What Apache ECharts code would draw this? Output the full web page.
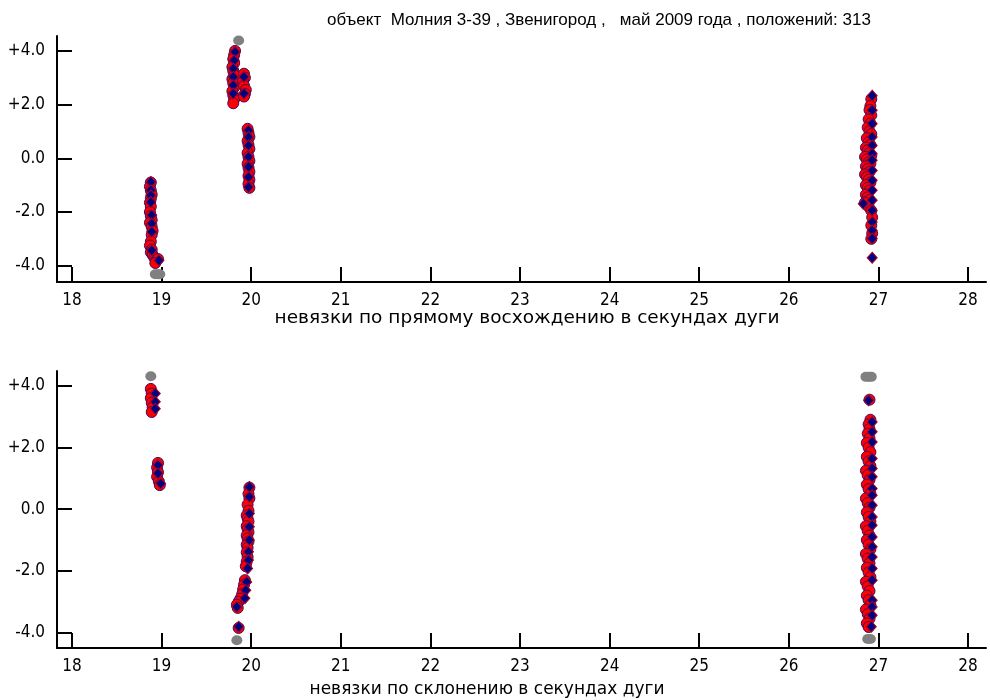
<!DOCTYPE html>
<html>
<head>
<meta charset="utf-8">
<script src="https://cdn.jsdelivr.net/npm/echarts@6/dist/echarts.min.js"></script>
<style>
html,body{margin:0;padding:0;background:#fff;}
#chart{width:990px;height:700px;}
</style>
</head>
<body>
<div id="chart"></div>
<script>
// ---- data ----
var titleText = 'объект  Молния 3-39 , Звенигород ,   май 2009 года , положений: 313';
var raAxisName = 'невязки по прямому восхождению в секундах дуги';
var decAxisName = 'невязки по склонению в секундах дуги';

var xTickValues = [18, 19, 20, 21, 22, 23, 24, 25, 26, 27, 28];
var yTickValues = [-4, -2, 0, 2, 4];
var yTickLabels = ['-4.0', '-2.0', '0.0', '+2.0', '+4.0'];

// right ascension residuals: red points
var raRed = [
  [18.88,-0.90],[18.87,-1.05],[18.88,-1.20],[18.89,-1.35],[18.88,-1.50],[18.87,-1.65],[18.88,-1.80],[18.87,-2.00],
  [18.88,-2.15],[18.89,-2.30],[18.87,-2.40],[18.89,-2.55],[18.90,-2.70],[18.89,-2.85],[18.88,-3.10],[18.87,-3.25],
  [18.89,-3.40],[18.88,-3.50],[18.90,-3.60],[18.92,-3.70],[18.94,-3.80],[18.96,-3.75],[18.93,-3.90],
  [19.82,4.00],[19.81,3.85],[19.80,3.70],[19.81,3.55],[19.79,3.40],[19.80,3.25],[19.81,3.10],[19.79,2.95],
  [19.80,2.80],[19.81,2.65],[19.79,2.50],[19.80,2.35],[19.81,2.20],[19.80,2.05],
  [19.92,3.15],[19.93,3.00],[19.91,2.85],[19.92,2.70],[19.94,2.55],[19.93,2.40],[19.92,2.30],
  [19.96,1.10],[19.97,0.95],[19.98,0.80],[19.96,0.65],[19.97,0.50],[19.98,0.35],[19.96,0.20],[19.97,0.05],
  [19.98,-0.10],[19.96,-0.20],[19.97,-0.35],[19.98,-0.50],[19.97,-0.65],[19.98,-0.80],[19.97,-0.95],[19.98,-1.10],
  [26.92,2.20],[26.91,1.95],[26.90,1.80],[26.92,1.60],[26.89,1.45],[26.91,1.30],[26.88,1.15],[26.90,1.00],
  [26.92,0.90],[26.87,0.75],[26.89,0.60],[26.91,0.50],[26.86,0.40],[26.88,0.30],[26.90,0.20],[26.92,0.10],
  [26.85,0.05],[26.87,-0.05],[26.89,-0.15],[26.91,-0.20],[26.86,-0.30],[26.88,-0.40],[26.90,-0.50],[26.85,-0.60],
  [26.87,-0.70],[26.89,-0.80],[26.91,-0.90],[26.86,-1.00],[26.88,-1.10],[26.90,-1.20],[26.86,-1.35],[26.88,-1.45],
  [26.90,-1.55],[26.85,-1.65],[26.89,-1.80],[26.92,-1.95],[26.93,-2.20],[26.92,-2.50],[26.93,-2.80],[26.92,-3.00]
];
// right ascension residuals: blue diamond points
var raBlue = [
  [18.88,-0.88],[18.88,-1.19],[18.88,-1.38],[18.88,-1.63],[18.89,-2.12],[18.89,-2.43],[18.89,-2.74],[18.89,-3.43],[18.97,-3.80],
  [19.82,3.96],[19.81,3.65],[19.80,3.34],[19.80,3.03],[19.80,2.72],[19.80,2.41],[19.92,3.03],[19.92,2.41],
  [19.97,1.04],[19.97,0.79],[19.97,0.48],[19.97,0.05],[19.97,-0.32],[19.97,-0.70],[19.97,-1.07],
  [26.93,2.33],[26.93,1.79],[26.93,1.29],[26.93,0.79],[26.93,0.48],[26.93,0.17],[26.93,-0.07],[26.93,-0.45],
  [26.93,-0.82],[26.93,-1.19],[26.93,-1.56],[26.93,-1.94],[26.93,-2.37],[26.93,-2.68],[26.93,-2.99],[26.93,-3.70],
  [26.83,-1.69]
];
// right ascension residuals: out-of-range points (grey)
var raGray = [
  [19.86,4.39],[18.93,-4.32],[18.96,-4.32],[18.98,-4.32]
];

// declination residuals: red points
var decRed = [
  [18.88,3.90],[18.89,3.75],[18.88,3.60],[18.89,3.45],[18.90,3.30],[18.89,3.15],
  [18.96,1.50],[18.95,1.35],[18.96,1.20],[18.95,1.05],[18.97,0.90],[18.98,0.78],
  [19.98,0.70],[19.97,0.50],[19.98,0.35],[19.96,0.15],[19.97,-0.05],[19.95,-0.20],[19.96,-0.30],[19.97,-0.40],
  [19.95,-0.55],[19.96,-0.65],[19.97,-0.75],[19.95,-0.85],[19.96,-0.95],[19.97,-1.05],[19.95,-1.15],[19.96,-1.25],
  [19.95,-1.40],[19.96,-1.55],[19.95,-1.70],[19.94,-1.85],[19.93,-2.30],[19.92,-2.45],[19.91,-2.60],[19.90,-2.75],
  [19.88,-2.90],[19.86,-3.00],[19.84,-3.10],[19.85,-3.20],[19.86,-3.85],
  [26.90,3.55],[26.91,2.90],[26.89,2.75],[26.90,2.60],[26.88,2.45],[26.90,2.30],[26.87,2.15],[26.89,2.00],
  [26.91,1.85],[26.87,1.70],[26.89,1.55],[26.91,1.40],[26.86,1.25],[26.88,1.10],[26.90,0.95],[26.87,0.80],
  [26.89,0.65],[26.91,0.50],[26.86,0.35],[26.88,0.20],[26.90,0.05],[26.87,-0.10],[26.89,-0.25],[26.91,-0.40],
  [26.86,-0.55],[26.88,-0.70],[26.90,-0.85],[26.87,-1.00],[26.89,-1.15],[26.91,-1.30],[26.86,-1.45],[26.88,-1.60],
  [26.90,-1.75],[26.87,-1.90],[26.89,-2.05],[26.91,-2.20],[26.86,-2.35],[26.88,-2.50],[26.90,-2.65],[26.87,-2.80],
  [26.89,-2.95],[26.91,-3.10],[26.86,-3.25],[26.88,-3.40],[26.90,-3.55],[26.87,-3.70],[26.89,-3.82]
];
// declination residuals: blue diamond points
var decBlue = [
  [18.93,3.75],[18.93,3.48],[18.93,3.26],[18.96,1.43],[18.96,1.16],[18.99,0.83],
  [19.98,0.72],[19.98,0.40],[19.98,-0.14],[19.98,-0.57],[19.98,-1.00],[19.97,-1.38],[19.97,-1.65],[19.96,-1.92],
  [19.95,-2.36],[19.94,-2.63],[19.93,-2.89],[19.84,-3.17],[19.86,-3.81],
  [26.89,3.53],[26.93,2.83],[26.93,2.51],[26.93,2.18],[26.93,1.64],[26.93,1.32],[26.93,1.05],[26.93,0.67],
  [26.93,0.45],[26.93,0.13],[26.93,-0.25],[26.93,-0.52],[26.93,-0.90],[26.93,-1.22],[26.93,-1.55],[26.93,-1.92],
  [26.93,-2.30],[26.93,-2.95],[26.93,-3.17],[26.93,-3.44],[26.92,-3.81]
];
// declination residuals: out-of-range points (grey)
var decGray = [
  [18.88,4.31],[19.84,-4.25],
  [26.86,4.29],[26.89,4.29],[26.92,4.29],[26.88,-4.21],[26.91,-4.21]
];

// ---- chart ----
var tickFont = '"DejaVu Sans Condensed", "Liberation Sans Narrow", "Liberation Sans", sans-serif';
function yLabel(v) {
  var i = yTickValues.indexOf(Math.round(v));
  return i >= 0 ? yTickLabels[i] : '';
}
function makeX(gridIndex) {
  return {
    type: 'value', gridIndex: gridIndex, min: 17.833, max: 28.2,
    axisLine: { show: true, onZero: false, lineStyle: { color: '#000', width: 2 } },
    axisTick: { show: true, inside: true, length: 15, customValues: xTickValues, lineStyle: { color: '#000', width: 2 } },
    axisLabel: { show: true, customValues: xTickValues, margin: 10, color: '#000',
      fontFamily: tickFont, fontSize: 17, formatter: function (v) { return String(Math.round(v)); } },
    splitLine: { show: false }
  };
}
function makeY(gridIndex, mn, mx) {
  return {
    type: 'value', gridIndex: gridIndex, min: mn, max: mx,
    axisLine: { show: true, onZero: false, lineStyle: { color: '#000', width: 2 } },
    axisTick: { show: true, inside: true, length: 15, customValues: yTickValues, lineStyle: { color: '#000', width: 2 } },
    axisLabel: { show: true, customValues: yTickValues, margin: 12, color: '#000',
      fontFamily: tickFont, fontSize: 17, formatter: yLabel },
    splitLine: { show: false }
  };
}
function redSeries(idx, data) {
  return { type: 'scatter', xAxisIndex: idx, yAxisIndex: idx, data: data, symbol: 'circle', symbolSize: 11,
    itemStyle: { color: '#ff0000', borderColor: '#4a0a5a', borderWidth: 1, opacity: 1 }, silent: true };
}
function blueSeries(idx, data) {
  return { type: 'scatter', xAxisIndex: idx, yAxisIndex: idx, data: data, symbol: 'diamond', symbolSize: [10, 11],
    itemStyle: { color: '#000080', borderColor: '#b00020', borderWidth: 1, opacity: 1 }, silent: true };
}
function graySeries(idx, data) {
  return { type: 'scatter', xAxisIndex: idx, yAxisIndex: idx, data: data, symbol: 'circle', symbolSize: [11, 10],
    itemStyle: { color: '#808080', opacity: 1 }, silent: true };
}

var chart = echarts.init(document.getElementById('chart'), null, { renderer: 'canvas' });
chart.setOption({
  animation: false,
  backgroundColor: '#ffffff',
  grid: [
    { left: 57, top: 36, width: 929, height: 246 },
    { left: 57, top: 371, width: 929, height: 277 }
  ],
  xAxis: [makeX(0), makeX(1)],
  yAxis: [makeY(0, -4.607, 4.555), makeY(1, -4.50, 4.48)],
  series: [
    redSeries(0, raRed), blueSeries(0, raBlue), graySeries(0, raGray),
    redSeries(1, decRed), blueSeries(1, decBlue), graySeries(1, decGray)
  ],
  graphic: [
    { type: 'text', x: 599, y: 20, silent: true,
      style: { text: titleText, align: 'center', verticalAlign: 'middle', textAlign: 'center', textVerticalAlign: 'middle',
        font: '17px "Liberation Sans"', fill: '#000' } },
    { type: 'text', x: 527, y: 318, silent: true,
      style: { text: raAxisName, align: 'center', verticalAlign: 'middle', textAlign: 'center', textVerticalAlign: 'middle',
        font: '18.5px "DejaVu Sans"', fill: '#000' } },
    { type: 'text', x: 487, y: 690, silent: true,
      style: { text: decAxisName, align: 'center', verticalAlign: 'middle', textAlign: 'center', textVerticalAlign: 'middle',
        font: '17px "DejaVu Sans"', fill: '#000' } }
  ]
});
</script>
</body>
</html>
